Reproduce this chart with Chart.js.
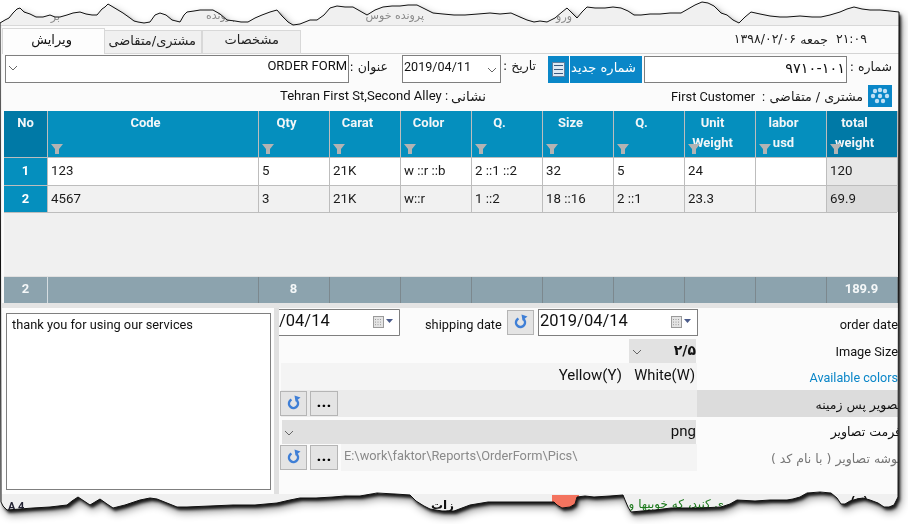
<!DOCTYPE html>
<html><head><meta charset="utf-8">
<style>html,body{margin:0;padding:0;background:#fff;overflow:hidden}canvas{display:block}</style>
<script src="https://cdn.jsdelivr.net/npm/chart.js@4"></script>
</head><body>
<div style="width:908px;height:524px"><canvas id="c" width="908" height="524"></canvas></div>
<script>
// ---- data ----
const headers1 = ["No","Code","Qty","Carat","Color","Q.","Size","Q.","Unit","labor","total"];
const headers2 = ["","","","","","","","","Weight","usd","weight"];
const rowNumbers = ["1","2"];
const codes = ["123","4567"];
const qtys = [5,3];
const carats = ["21K","21K"];
const colors = ["w ::r ::b","w::r"];
const q1 = ["2 ::1 ::2","1 ::2"];
const sizes = ["32","18 ::16"];
const q2 = ["5","2 ::1"];
const unitWeights = [24,23.3];
const labor = ["",""];
const totalWeights = [120,69.9];
const footerValues = ["2","","8","","","","","","","","189.9"];

// ---- layout ----
const colX = [4,47,258,329,400,471,542,613,684,755,826,897];
const topEdge = [[0,23],[5,20],[9,18],[13,13],[17,9],[20,8],[24,12],[30,14],[36,17],[43,17],[50,15],[55,17],[60,17],[67,15],[73,13],[80,12],[86,14],[92,15],[97,15],[102,9],[105,7],[108,4],[113,7],[118,10],[123,13],[130,18],[134,21],[138,22],[144,23],[150,22],[155,15],[160,13],[166,15],[172,20],[180,22],[184,15],[187,12],[194,11],[200,10],[207,10],[213,10],[220,14],[227,20],[235,21],[241,22],[248,22],[255,18],[262,15],[270,12],[277,10],[282,16],[288,22],[293,25],[300,24],[310,20],[317,20],[324,15],[330,8],[337,6],[345,7],[353,7],[360,11],[367,15],[375,10],[383,7],[392,6],[400,6],[408,5],[417,5],[425,9],[433,13],[443,14],[454,15],[465,15],[478,14],[490,13],[500,14],[511,13],[520,17],[527,20],[534,22],[540,21],[547,22],[555,18],[562,12],[567,8],[572,13],[577,18],[582,12],[587,7],[595,8],[605,8],[613,7],[621,8],[628,11],[634,15],[641,15],[650,14],[660,14],[670,13],[681,13],[688,9],[695,5],[702,2],[708,3],[714,6],[721,13],[727,15],[733,20],[739,23],[745,17],[751,12],[760,14],[770,16],[780,17],[787,17],[800,16],[812,17],[821,17],[830,15],[840,12],[847,9],[854,7],[862,9],[870,10],[880,10],[890,11],[899,12]];
const bottomEdge = [[898,497],[894,505],[889,507],[884,507],[878,503],[870,500],[863,498],[857,499],[850,501],[845,504],[841,504],[837,498],[831,493],[820,492],[807,493],[800,497],[793,499],[787,500],[770,500],[755,501],[737,500],[730,504],[721,507],[700,508],[685,508],[671,508],[655,510],[642,511],[631,512],[628,507],[625,500],[623,495],[610,496],[594,497],[585,496],[577,497],[575,504],[570,507],[562,508],[557,505],[554,502],[535,502],[515,502],[488,502],[470,505],[454,511],[442,511],[430,509],[424,506],[416,501],[410,495],[395,494],[377,493],[360,496],[345,496],[333,497],[316,498],[300,498],[290,500],[277,503],[255,505],[233,505],[210,506],[187,507],[177,507],[167,503],[157,499],[150,498],[140,500],[125,505],[113,508],[107,504],[100,499],[95,502],[90,505],[84,501],[78,497],[72,501],[67,505],[50,507],[33,508],[20,509],[7,510],[3,506],[1,502]];

const SANS = '"Roboto","DejaVu Sans",sans-serif';
const FA = '"DejaVu Sans","Noto Sans",sans-serif';

function rect(ctx,x,y,w,h,fill,stroke){
  if(fill){ctx.fillStyle=fill;ctx.fillRect(x,y,w,h);}
  if(stroke){ctx.strokeStyle=stroke;ctx.lineWidth=1;ctx.strokeRect(x+.5,y+.5,w-1,h-1);}
}
function txt(ctx,s,x,y,o={}){
  ctx.save();
  ctx.font=o.font||('13px '+SANS);
  ctx.fillStyle=o.color||'#1a1a1a';
  ctx.textBaseline='middle';
  ctx.direction=o.rtl?'rtl':'ltr';
  ctx.textAlign=o.align||'left';
  ctx.fillText(s,x,o.rtl?y:y+1);
  ctx.restore();
}
function fa(ctx,s,x,y,o={}){txt(ctx,s,x,y,Object.assign({rtl:true,align:'right',font:'12px '+FA},o));}
function funnel(ctx,cx){
  ctx.fillStyle='#b3b3b3';
  ctx.beginPath();ctx.moveTo(cx-6,144);ctx.lineTo(cx+6,144);ctx.lineTo(cx+2,149);ctx.lineTo(cx+2,154);ctx.lineTo(cx-2,154);ctx.lineTo(cx-2,149);ctx.closePath();ctx.fill();
}
function chevron(ctx,cx,cy){
  ctx.strokeStyle='#666';ctx.lineWidth=1;ctx.beginPath();ctx.moveTo(cx-4,cy-2);ctx.lineTo(cx,cy+2);ctx.lineTo(cx+4,cy-2);ctx.stroke();
}
function calendar(ctx,x,y){
  rect(ctx,x,y,11,12,'#e4e4e4','#9a9a9a');
  ctx.fillStyle='#9a9a9a';
  for(let i=0;i<3;i++)for(let j=0;j<3;j++)ctx.fillRect(x+2+i*2.5,y+3+j*2.6,1,1);
  ctx.fillStyle='#4a5a8a';ctx.beginPath();ctx.moveTo(x+13,y+3);ctx.lineTo(x+20,y+3);ctx.lineTo(x+16.5,y+7);ctx.closePath();ctx.fill();
}
function resetBtn(ctx,x,y,w,h){
  rect(ctx,x,y,w,h,'#e4e4e4','#b5b5b5');
  const cx=x+w/2,cy=y+h/2;
  ctx.strokeStyle='#3f7fd6';ctx.lineWidth=2.5;ctx.beginPath();ctx.arc(cx,cy,4.5,-0.9,Math.PI*1.35);ctx.stroke();
  ctx.fillStyle='#3f7fd6';ctx.beginPath();ctx.moveTo(cx+1,cy-8);ctx.lineTo(cx+7,cy-6);ctx.lineTo(cx+2,cy-2);ctx.closePath();ctx.fill();
}
function dotsBtn(ctx,x,y,w,h){
  rect(ctx,x,y,w,h,'#e4e4e4','#b5b5b5');
  txt(ctx,'...',x+w/2,y+h/2-2,{align:'center',font:'bold 17px '+SANS,color:'#000'});
}

function paperPath(ctx){
  ctx.beginPath();
  topEdge.forEach((p,i)=>i?ctx.lineTo(p[0],p[1]):ctx.moveTo(p[0],p[1]));
  bottomEdge.forEach(p=>ctx.lineTo(p[0],p[1]));
  ctx.closePath();
}

const screenPlugin={id:'screen',afterDraw(chart){
  const ctx=chart.ctx;
  ctx.save();
  rect(ctx,0,0,908,524,'#fff');
  ctx.save();
  ctx.shadowColor='rgba(0,0,0,.45)';ctx.shadowBlur=8;ctx.shadowOffsetX=3;ctx.shadowOffsetY=5;
  paperPath(ctx);ctx.fillStyle='#f0f0f0';ctx.fill();
  ctx.shadowColor='rgba(0,0,0,.85)';ctx.shadowBlur=3;ctx.shadowOffsetX=2;ctx.shadowOffsetY=3;
  paperPath(ctx);ctx.fill();
  ctx.restore();

  ctx.save();
  paperPath(ctx);ctx.clip();
  // window strip
  const ghost={rtl:true,align:'right',font:'11px '+FA,color:'#8a8a8a'};
  txt(ctx,'بر',60,17,ghost);
  txt(ctx,'پرونده',235,16,ghost);
  txt(ctx,'پرونده خوس',424,16,ghost);
  txt(ctx,'ات',532,15,ghost);
  txt(ctx,'ورو',572,17,ghost);
  rect(ctx,0,25,908,1,'#d8d8d8');
  rect(ctx,2,26,898,468,'#fbfbfb');
  // tabs
  rect(ctx,2,53,898,1,'#d4d4d4');
  rect(ctx,104,30,98,24,'#f0f0f0','#d8d8d8');
  rect(ctx,202,30,99,24,'#f0f0f0','#d8d8d8');
  rect(ctx,2,28,103,26,'#fdfdfd','#d8d8d8');
  rect(ctx,3,53,101,1,'#fdfdfd');
  fa(ctx,'ویرایش',72,41,{font:'13px '+FA,color:'#111'});
  fa(ctx,'مشتری/متقاضی',196,42,{font:'13px '+FA,color:'#222'});
  fa(ctx,'مشخصات',279,41,{font:'13px '+FA,color:'#222'});
  // clock
  fa(ctx,'۲۱:۰۹',867,40,{font:'12.5px '+FA,color:'#222'});
  fa(ctx,'جمعه',828,41,{font:'12.5px '+FA,color:'#222'});
  fa(ctx,'۱۳۹۸/۰۲/۰۶',796,40,{font:'12.5px '+FA,color:'#222'});
  // row 2
  rect(ctx,5,55,344,28,'#fff','#7f7f7f');
  chevron(ctx,13,68);
  txt(ctx,'ORDER FORM',347,66,{align:'right',font:'13px '+SANS,color:'#111'});
  fa(ctx,'عنوان :',388,68,{font:'12.5px '+FA});
  rect(ctx,402,55,99,28,'#fff','#7f7f7f');
  txt(ctx,'2019/04/11',404,67,{font:'12.6px '+SANS,color:'#111'});
  chevron(ctx,492,70);
  fa(ctx,'تاریخ :',536,67,{font:'12.5px '+FA});
  rect(ctx,548,56,21,27,'#0a87c8');
  rect(ctx,552,62,13,15,'#dfe9f3','#5d7fa0');
  ctx.fillStyle='#3a5a80';[65,69,73].forEach(y=>ctx.fillRect(554,y,9,1));
  rect(ctx,570,56,72,27,'#0a87c8');
  fa(ctx,'شماره جدید',636,69,{font:'13px '+FA,color:'#fff'});
  rect(ctx,644,56,203,27,'#fff','#7f7f7f');
  fa(ctx,'۹۷۱۰-۱۰۱',845,69,{font:'14.5px '+FA,color:'#111'});
  fa(ctx,'شماره :',892,68,{font:'12.5px '+FA});
  // row 3
  txt(ctx,'Tehran First St,Second Alley :',280,96,{font:'13.1px '+SANS,color:'#111'});
  fa(ctx,'نشانی',486,97,{font:'13.5px '+FA});
  txt(ctx,'First Customer',671,97,{font:'12.8px '+SANS,color:'#111'});
  txt(ctx,':',762,97,{font:'12.8px '+SANS,color:'#111'});
  fa(ctx,'مشتری / متقاضی',863,98,{font:'12.7px '+FA});
  rect(ctx,868,85,24,22,'#0a87c8');
  ctx.fillStyle='#bfe0f5';
  [[875,91],[880,90],[885,91],[873,96],[880,96],[887,96],[877,101],[883,101]].forEach(p=>{ctx.beginPath();ctx.arc(p[0],p[1],2.2,0,7);ctx.fill();});

  // table header
  rect(ctx,colX[0],111,colX[11]-colX[0],47,'#058fbe');
  rect(ctx,colX[0],111,colX[1]-colX[0],47,'#0079a6');
  rect(ctx,colX[10],111,colX[11]-colX[10],47,'#0079a6');
  headers1.forEach((h,i)=>{
    const cx=(colX[i]+colX[i+1])/2;
    const dx=i===0?0:-7;
    txt(ctx,h,cx+dx,122.5,{align:'center',font:'bold 13px '+SANS,color:'#f2f6f8'});
    if(headers2[i])txt(ctx,headers2[i],cx+dx,142.5,{align:'center',font:'bold 13px '+SANS,color:'#f2f6f8'});
    if(i>0)funnel(ctx,colX[i]+10);
  });
  // rows
  const columns=[rowNumbers,codes,qtys,carats,colors,q1,sizes,q2,unitWeights,labor,totalWeights];
  const rowTop=[158,186],rowH=[27,26];
  rect(ctx,colX[0],212,colX[11]-colX[0]+1,65,'#f0f0f0');
  rowNumbers.forEach((_,r)=>{
    columns.forEach((col,i)=>{
      const x=colX[i],w=colX[i+1]-x;
      let bg=r===0?'#fff':'#f1f1f1';
      if(i===0)bg='#058fbe';
      if(i===10)bg=r===0?'#e8e8e8':'#dcdcdc';
      rect(ctx,x,rowTop[r],w,rowH[r],bg);
      if(i===0)txt(ctx,String(col[r]),x+w/2,rowTop[r]+12.5,{align:'center',font:'bold 13px '+SANS,color:'#fff'});
      else if(col[r]!=='')txt(ctx,String(col[r]),x+4,rowTop[r]+12.5,{font:'13.3px '+SANS,color:'#1a1a1a'});
    });
  });
  ctx.fillStyle='#bdbdbd';
  ctx.fillRect(colX[0],157,colX[11]-colX[0],1);ctx.fillRect(colX[0],185,colX[11]-colX[0],1);ctx.fillRect(colX[0],212,colX[11]-colX[0],1);
  colX.slice(1).forEach(x=>ctx.fillRect(x,111,1,101));
  // footer
  rect(ctx,colX[0],277,colX[11]-colX[0],26,'#8ca3ae');
  ctx.fillStyle='#e0e0e0';ctx.fillRect(colX[0],276,colX[11]-colX[0],1);
  colX.slice(1).forEach((x,i)=>{ctx.fillStyle=i===0?'#d5dde1':'#7c888e';ctx.fillRect(x,277,1,26);});
  footerValues.forEach((v,i)=>{
    if(v)txt(ctx,v,(colX[i]+colX[i+1])/2,288.5,{align:'center',font:'bold 13px '+SANS,color:'#f4f7f8'});
  });
  rect(ctx,2,303,898,5,'#e4e4e4');
  // lower panel
  rect(ctx,2,308,898,186,'#fbfbfb');
  rect(ctx,2,308,272,186,'#fdfdfd');
  rect(ctx,274,308,5,186,'#e0e0e0');
  rect(ctx,6,313,265,177,'#fff','#7f7f7f');
  txt(ctx,'thank you for using our services',12,324.5,{font:'12.8px '+SANS,color:'#111'});
  // shipping / order date
  rect(ctx,279,309,120,26,'#fff');
  ctx.strokeStyle='#7f7f7f';ctx.lineWidth=1;ctx.beginPath();ctx.moveTo(279,309.5);ctx.lineTo(399.5,309.5);ctx.lineTo(399.5,335.5);ctx.lineTo(279,335.5);ctx.stroke();
  txt(ctx,'/04/14',279,320.5,{font:'16.5px '+SANS,color:'#111'});
  calendar(ctx,373,316);
  txt(ctx,'shipping date',425,324.5,{font:'12.8px '+SANS,color:'#111'});
  resetBtn(ctx,507,310,27,25);
  rect(ctx,538,309,160,27,'#fff','#7f7f7f');
  txt(ctx,'2019/04/14',540,320.5,{font:'16.5px '+SANS,color:'#111'});
  calendar(ctx,671,316);
  txt(ctx,'order date',898,324.5,{align:'right',font:'12.8px '+SANS,color:'#111'});
  // image size
  rect(ctx,629,339,67,24,'#e2e2e2');
  chevron(ctx,637,352);
  fa(ctx,'۲/۵',696,351,{font:'bold 14px '+FA,color:'#111'});
  txt(ctx,'Image Size',898,351.5,{align:'right',font:'12.8px '+SANS,color:'#111'});
  // colours
  rect(ctx,281,363,416,27,'#f4f4f4');
  txt(ctx,'White(W)',695,375.5,{align:'right',font:'14.7px '+SANS,color:'#111'});
  txt(ctx,'Yellow(Y)',622,375.5,{align:'right',font:'15px '+SANS,color:'#111'});
  txt(ctx,'Available colors',898,378,{align:'right',font:'12.6px '+SANS,color:'#0a86c8'});
  // background picture
  rect(ctx,281,390,416,27,'#ebebeb');
  rect(ctx,697,390,203,27,'#dcdcdc');
  resetBtn(ctx,280,391,27,25);dotsBtn(ctx,310,391,28,25);
  fa(ctx,'تصویر پس زمینه',901,406,{font:'12.5px '+FA,color:'#111'});
  // format
  rect(ctx,282,420,414,24,'#e0e0e0');
  chevron(ctx,289,433);
  txt(ctx,'png',696,431.5,{align:'right',font:'15px '+SANS,color:'#111'});
  fa(ctx,'فرمت تصاویر',901,433,{font:'12.5px '+FA,color:'#111'});
  // folder
  rect(ctx,341,444,356,27,'#f4f4f4');
  resetBtn(ctx,280,445,27,25);dotsBtn(ctx,310,445,28,25);
  txt(ctx,'E:\\work\\faktor\\Reports\\OrderForm\\Pics\\',344,455.5,{font:'12.8px '+SANS,color:'#8a8a8a'});
  fa(ctx,'پوشه تصاویر ( با نام کد )',901,460,{font:'12.5px '+FA,color:'#777'});
  // torn fragments underneath
  rect(ctx,552,495,27,16,'#f4745f');
  fa(ctx,'ی کنید، که خوبیها و',724,505,{font:'12px '+FA,color:'#1d7a1d'});
  fa(ctx,'زات',454,506,{font:'bold 12px '+FA,color:'#111'});
  fa(ctx,'(ع)',868,501,{font:'bold 11px '+FA,color:'#111'});
  txt(ctx,'A 4',8,506,{font:'bold 11px '+SANS,color:'#223'});
  ctx.restore();

  paperPath(ctx);ctx.strokeStyle='#111';ctx.lineWidth=1;ctx.stroke();
  ctx.restore();
}};

new Chart(document.getElementById('c'),{
  type:'bar',
  data:{labels:headers1,datasets:[{label:'total weight',data:[]}]},
  options:{responsive:false,animation:false,devicePixelRatio:1,
    plugins:{legend:{display:false},tooltip:{enabled:false},title:{display:false}},
    scales:{x:{display:false},y:{display:false}}},
  plugins:[screenPlugin]
});
</script>
</body></html>
